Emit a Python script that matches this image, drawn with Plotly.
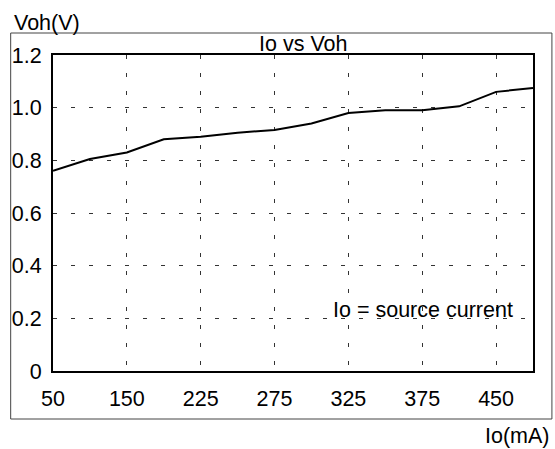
import plotly.graph_objects as go

# Data
io_categories = ["50", "100", "150", "200", "225", "250", "275", "300",
                 "325", "350", "375", "400", "450", "500"]
voh_values = [0.76, 0.805, 0.83, 0.88, 0.89, 0.905, 0.915, 0.94,
              0.98, 0.99, 0.99, 1.005, 1.06, 1.075]
x_tick_labels = ["50", "150", "225", "275", "325", "375", "450"]
y_tick_vals = [0, 0.2, 0.4, 0.6, 0.8, 1.0, 1.2]
y_tick_text = ["0", "0.2", "0.4", "0.6", "0.8", "1.0", "1.2"]

W, H = 555, 449
L, R, T, B = 51, 22, 55, 78
pw, ph = W - L - R, H - T - B


def px(x):
    return (x - L) / pw


def py(y):
    return (H - B - y) / ph


FONT = "Liberation Sans, Arial, sans-serif"
FS = 21.5

fig = go.Figure()
fig.add_trace(go.Scatter(
    x=io_categories, y=voh_values, mode="lines",
    line=dict(color="black", width=2), showlegend=False,
))

fig.update_layout(
    width=W, height=H,
    margin=dict(l=L, r=R, t=T, b=B),
    paper_bgcolor="white", plot_bgcolor="white",
    font=dict(family=FONT, size=FS, color="black"),
    xaxis=dict(
        type="category", range=[0, len(io_categories) - 1],
        tickmode="array", tickvals=x_tick_labels, ticktext=x_tick_labels,
        showgrid=True, gridcolor="#333", gridwidth=1, griddash="4px,14px",
        showline=True, mirror=True, linecolor="black", linewidth=2,
        ticks="", ticklabelstandoff=7, zeroline=False,
        tickfont=dict(family=FONT, size=FS, color="black"),
    ),
    yaxis=dict(
        range=[0, 1.2], tickmode="array", tickvals=y_tick_vals, ticktext=y_tick_text,
        showgrid=True, gridcolor="#333", gridwidth=1, griddash="4px,14px",
        showline=True, mirror=True, linecolor="black", linewidth=2,
        ticks="", ticklabelstandoff=5, zeroline=False,
        tickfont=dict(family=FONT, size=FS, color="black"),
    ),
    shapes=[dict(
        type="rect", xref="paper", yref="paper",
        x0=px(8.5), x1=px(552), y0=py(419), y1=py(33),
        line=dict(color="#444", width=1), fillcolor="rgba(0,0,0,0)", layer="below",
    )],
    annotations=[
        dict(text="Io vs Voh", xref="paper", yref="paper", x=px(301.7), y=py(44),
             xanchor="center", yanchor="middle", showarrow=False,
             font=dict(family=FONT, size=FS, color="black")),
        dict(text="Io = source current", xref="paper", yref="paper", x=px(330), y=py(310),
             xanchor="left", yanchor="middle", showarrow=False,
             font=dict(family=FONT, size=FS, color="black")),
        dict(text="Voh(V)", xref="paper", yref="paper", x=px(10), y=py(22.7),
             xanchor="left", yanchor="middle", showarrow=False,
             font=dict(family=FONT, size=FS, color="black")),
        dict(text="Io(mA)", xref="paper", yref="paper", x=px(552), y=py(436),
             xanchor="right", yanchor="middle", showarrow=False,
             font=dict(family=FONT, size=FS, color="black")),
    ],
)

fig.write_html(
    "out.html",
    config={"displayModeBar": False},
    post_script="document.body.style.margin='0';document.body.style.padding='0';",
)
